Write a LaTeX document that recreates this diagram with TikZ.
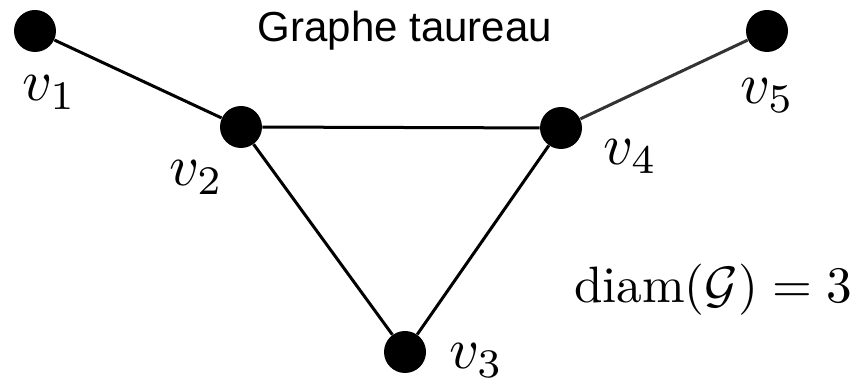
\documentclass[tikz,border=0pt]{standalone}
\usepackage{fontspec}
\usepackage{amsmath}
\usepackage{amssymb}
\usetikzlibrary{positioning}
\newfontfamily\titlefont{Liberation Sans}
\definecolor{edgeGray}{HTML}{333333}
\tikzset{
  vertex/.style={circle, fill=black, draw=none, minimum size=21pt, inner sep=0pt},
  vlabel/.style={anchor=base west, inner sep=0pt, font=\normalsize, scale=2.9},
  mathnote/.style={anchor=base west, inner sep=0pt, font=\normalsize, scale=2.56},
  edge/.style={draw=black, line width=1.5pt},
  softedge/.style={draw=edgeGray, line width=1.5pt},
}
\begin{document}
\begin{tikzpicture}[x=0.5pt, y=-0.5pt]

  \useasboundingbox (0,0) rectangle (862,383);

  \node[anchor=base, inner sep=0pt, font=\titlefont\fontsize{21pt}{24pt}\selectfont] (title) at (405,42) {Graphe taureau};

  % Vertices
  \node[vertex] (v1) at (35,31) {};
  \node[vertex] (v2) at (241,127) {};
  \node[vertex] (v3) at (405,352) {};
  \node[vertex] (v4) at (561,128) {};
  \node[vertex] (v5) at (767,31) {};

  % Labels
  \node[vlabel] (l1) at (21,101) {$v_1$};
  \node[vlabel] (l2) at (168,186) {$v_2$};
  \node[vlabel] (l3) at (448,369) {$v_3$};
  \node[vlabel] (l4) at (602,165) {$v_4$};
  \node[vlabel] (l5) at (739,104) {$v_5$};

  % Edges
  \draw[edge] (v1) -- (v2);
  \draw[edge] (v2) -- (v4);
  \draw[edge] (v2) -- (v3);
  \draw[edge] (v3) -- (v4);
  \draw[softedge] (v4) -- (v5);

  \node[mathnote] (diam) at (573,303) {$\operatorname{diam}(\mathcal{G}) = 3$};

\end{tikzpicture}
\end{document}
